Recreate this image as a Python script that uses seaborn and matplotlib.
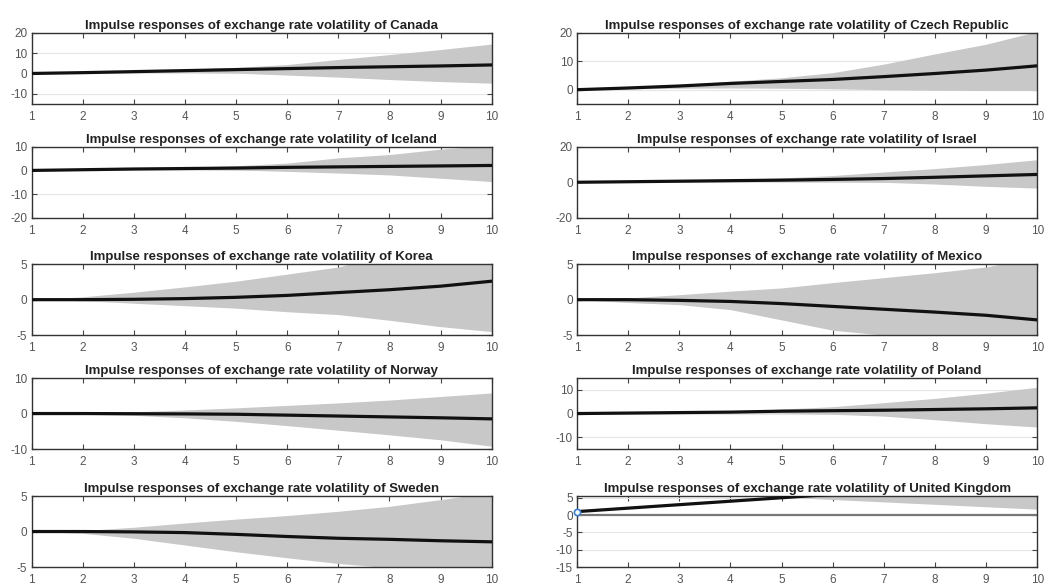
import matplotlib
matplotlib.use("Agg")
import matplotlib.pyplot as plt
import seaborn as sns
import pandas as pd

horizon = [1, 2, 3, 4, 5, 6, 7, 8, 9, 10]

canada_med = [0, 0.4, 0.9, 1.4, 1.9, 2.4, 2.9, 3.3, 3.7, 4.2]
canada_hi = [0, 0.5, 1.2, 2.0, 3.0, 4.4, 6.9, 9.3, 11.8, 14.5]
canada_lo = [0, 0.2, 0.4, 0.5, 0.2, -0.8, -1.8, -3.0, -4.0, -4.8]

czech_med = [0, 0.6, 1.3, 2.2, 2.9, 3.6, 4.6, 5.7, 6.9, 8.4]
czech_hi = [0, 1.0, 1.8, 3.0, 4.2, 6.0, 9.0, 12.6, 16.0, 20.5]
czech_lo = [0, 0.3, 0.5, 0.6, 0.5, 0.3, 0.0, -0.2, -0.3, -0.3]

iceland_med = [0, 0.3, 0.6, 0.8, 1.0, 1.3, 1.5, 1.7, 1.9, 2.1]
iceland_hi = [0, 0.4, 0.8, 1.3, 2.0, 3.1, 5.3, 6.7, 9.0, 10.5]
iceland_lo = [0, 0.2, 0.4, 0.4, 0.2, -0.4, -1.1, -1.9, -3.3, -4.7]

israel_med = [0, 0.3, 0.6, 0.9, 1.2, 1.6, 2.1, 2.8, 3.6, 4.4]
israel_hi = [0, 0.5, 1.0, 1.6, 2.4, 3.8, 5.8, 7.7, 10.0, 12.7]
israel_lo = [0, 0.1, 0.3, 0.4, 0.3, 0.2, 0.0, -1.0, -2.3, -3.3]

korea_med = [0, 0.0, 0.05, 0.15, 0.33, 0.6, 1.0, 1.4, 1.9, 2.6]
korea_hi = [0, 0.4, 1.05, 1.8, 2.6, 3.6, 4.6, 6.5, 8.5, 11.0]
korea_lo = [0, -0.15, -0.5, -0.85, -1.2, -1.7, -2.1, -2.9, -3.8, -4.5]

mexico_med = [0, 0.0, -0.1, -0.25, -0.55, -0.95, -1.35, -1.75, -2.2, -2.85]
mexico_hi = [0, 0.25, 0.7, 1.2, 1.65, 2.4, 3.1, 3.8, 4.6, 6.0]
mexico_lo = [0, -0.4, -0.7, -1.4, -2.85, -4.3, -5.0, -5.5, -6.0, -6.5]

norway_med = [0, 0.0, -0.05, -0.1, -0.2, -0.45, -0.7, -0.95, -1.2, -1.5]
norway_hi = [0, 0.2, 0.5, 1.0, 1.6, 2.3, 3.0, 3.8, 4.8, 5.8]
norway_lo = [0, -0.2, -0.5, -1.2, -2.2, -3.4, -4.7, -6.0, -7.4, -9.2]

poland_med = [0, 0.2, 0.4, 0.6, 1.0, 1.2, 1.4, 1.7, 2.0, 2.4]
poland_hi = [0, 0.3, 0.6, 1.0, 1.9, 2.9, 4.6, 6.4, 8.6, 11.1]
poland_lo = [0, 0.1, 0.2, 0.2, 0.1, -0.3, -1.1, -2.6, -4.3, -5.7]

sweden_med = [0, 0.0, -0.05, -0.15, -0.4, -0.7, -0.95, -1.1, -1.3, -1.45]
sweden_hi = [0, 0.15, 0.6, 1.2, 1.75, 2.25, 2.85, 3.55, 4.5, 5.5]
sweden_lo = [0, -0.25, -0.95, -1.9, -2.85, -3.7, -4.5, -5.1, -5.8, -6.5]

uk_med = [1, 2, 3, 4, 5, 6, 7, 8, 9, 10]
uk_hi = [12, 13, 14, 15, 16, 17, 18, 19, 20, 21]
uk_lo = [9, 8, 7, 6, 5.2, 4.5, 3.8, 3.1, 2.4, 1.7]

countries = ["Canada", "Czech Republic", "Iceland", "Israel", "Korea",
             "Mexico", "Norway", "Poland", "Sweden", "United Kingdom"]
medians = [canada_med, czech_med, iceland_med, israel_med, korea_med,
           mexico_med, norway_med, poland_med, sweden_med, uk_med]
uppers = [canada_hi, czech_hi, iceland_hi, israel_hi, korea_hi,
          mexico_hi, norway_hi, poland_hi, sweden_hi, uk_hi]
lowers = [canada_lo, czech_lo, iceland_lo, israel_lo, korea_lo,
          mexico_lo, norway_lo, poland_lo, sweden_lo, uk_lo]
ylims = [(-15, 20), (-5, 20), (-20, 10), (-20, 20), (-5, 5),
         (-5, 5), (-10, 10), (-15, 15), (-5, 5), (-15, 5.5)]
yticks = [[-10, 0, 10, 20], [0, 10, 20], [-20, -10, 0, 10], [-20, 0, 20],
          [-5, 0, 5], [-5, 0, 5], [-10, 0, 10], [-10, 0, 10], [-5, 0, 5],
          [-15, -10, -5, 0, 5]]

sns.set_theme(style="white")
plt.rcParams['font.family'] = ['Liberation Sans', 'DejaVu Sans']
plt.rcParams['axes.unicode_minus'] = False

fig = plt.figure(figsize=(10.53, 5.87), dpi=100)
lefts = [0.030, 0.548]
width = 0.437
bottoms = [0.823, 0.629, 0.429, 0.235, 0.034]
height = 0.121

for i, name in enumerate(countries):
    r, c = divmod(i, 2)
    ax = fig.add_axes([lefts[c], bottoms[r], width, height])
    ax.set_facecolor("white")
    ax.fill_between(horizon, lowers[i], uppers[i], color="#c8c8c8", lw=0, zorder=1)
    df = pd.DataFrame({"h": horizon, "v": medians[i]})
    sns.lineplot(data=df, x="h", y="v", ax=ax, color="#111111", lw=2.3, zorder=3)
    if name == "United Kingdom":
        ax.axhline(0, color="#777777", lw=1.6, zorder=2)
        ax.plot([horizon[0]], [medians[i][0]], marker="o", ms=4.5, mfc="white",
                mec="#3a7fd0", mew=1.2, zorder=5, clip_on=False)
    ax.set_xlim(1, 10)
    ax.set_ylim(*ylims[i])
    ax.set_xticks(horizon)
    ax.set_yticks(yticks[i])
    ax.set_xlabel("")
    ax.set_ylabel("")
    ax.yaxis.grid(True, color="#e6e6e6", lw=0.8, zorder=0)
    ax.xaxis.grid(False)
    ax.set_axisbelow(True)
    ax.tick_params(direction="in", length=3.5, width=0.8, colors="#444444",
                   labelcolor="#555555", labelsize=8.5, top=True, right=True,
                   bottom=True, left=True)
    ax.tick_params(axis="x", pad=5)
    ax.tick_params(axis="y", pad=3)
    for s in ax.spines.values():
        s.set_color("#333333")
        s.set_linewidth(1.0)
    ax.set_title("Impulse responses of exchange rate volatility of " + name,
                 fontsize=9.5, fontweight="bold", color="#222222", pad=3)

fig.savefig("out.png", dpi=100)
